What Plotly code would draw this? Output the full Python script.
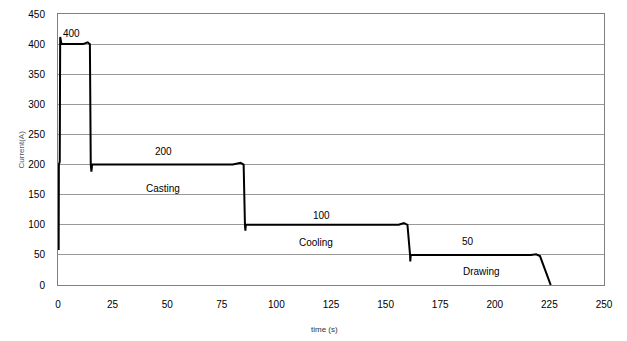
import plotly.graph_objects as go

# Welding current profile over time
time_s = [0.3, 0.4, 0.8, 0.9, 1.0, 1.6, 11.4, 13.6, 14.6, 15.0, 15.3, 15.6,
          80.0, 83.6, 85.0, 85.6, 85.8, 86.0,
          156.0, 158.4, 160.0, 161.2, 161.3, 161.5,
          216.6, 218.9, 220.7, 225.6]
current_a = [58, 200, 205, 355, 412, 400, 400, 403, 400, 200, 188, 200,
             200, 203, 200, 100, 90, 100,
             100, 103, 100, 50, 39, 50,
             50, 51, 48, 0]

label_x = [6, 48.5, 48, 120.7, 118, 187.6, 194]
label_y = [417, 222, 161, 115, 70, 73, 23]
label_text = ["400", "200", "Casting", "100", "Cooling", "50", "Drawing"]

x_ticks = list(range(0, 251, 25))
y_ticks = list(range(0, 451, 50))

W, H = 627, 341
ML, MR, MT, MB = 58, 23, 14, 56

fig = go.Figure()
fig.add_trace(go.Scatter(x=time_s, y=current_a, mode="lines",
                         line=dict(color="black", width=2),
                         showlegend=False, hoverinfo="skip"))

for tx, ty, tt in zip(label_x, label_y, label_text):
    fig.add_annotation(x=tx, y=ty, text=tt, showarrow=False,
                       font=dict(family="Liberation Sans, Arial", size=10, color="black"))

# axis titles placed in paper coordinates
pw, ph = W - ML - MR, H - MT - MB
fig.add_annotation(xref="paper", yref="paper",
                   x=(324 - ML) / pw, y=(H - MB - 336) / ph,
                   text="time (s)", showarrow=False,
                   font=dict(family="Liberation Sans, Arial", size=8, color="#333333"))
fig.add_annotation(xref="paper", yref="paper",
                   x=(14 - ML) / pw, y=(H - MB - 150) / ph,
                   text="Current(A)", textangle=-90, showarrow=False,
                   font=dict(family="Liberation Sans, Arial", size=8, color="#555555"))

fig.update_layout(
    width=W, height=H,
    margin=dict(l=ML, r=MR, t=MT, b=MB, autoexpand=False),
    paper_bgcolor="white", plot_bgcolor="white",
    font=dict(family="Liberation Sans, Arial", size=10, color="black"),
)
fig.update_xaxes(
    range=[0, 250], tickvals=x_ticks, showgrid=False, zeroline=False,
    showline=True, linecolor="#808080", linewidth=1, mirror=True,
    ticks="", ticklabelstandoff=10, automargin=False,
)
fig.update_yaxes(
    range=[0, 450], tickvals=y_ticks, showgrid=True, gridcolor="#999999", gridwidth=1,
    zeroline=False, showline=True, linecolor="#808080", linewidth=1, mirror=True,
    ticks="", ticklabelstandoff=10, automargin=False,
)

fig.write_html("out.html")
